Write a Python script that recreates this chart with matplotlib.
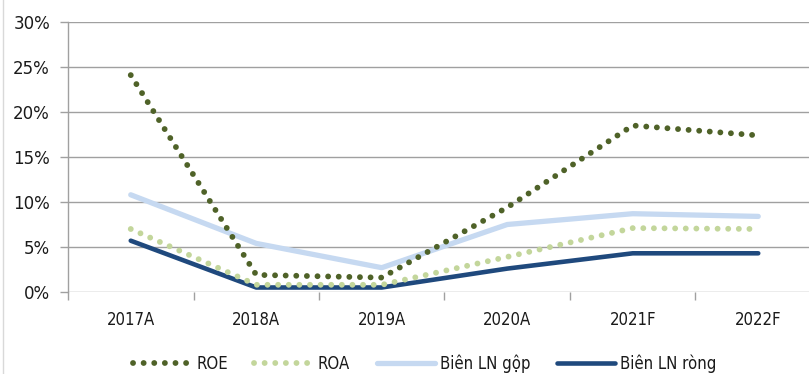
import matplotlib
matplotlib.use("Agg")
import matplotlib.pyplot as plt
from matplotlib.ticker import FixedLocator, PercentFormatter
from matplotlib.lines import Line2D

# Data (%)
years = ["2017A", "2018A", "2019A", "2020A", "2021F", "2022F"]
roe = [24.1, 1.9, 1.6, 9.4, 18.5, 17.4]
roa = [7.0, 0.8, 0.8, 3.9, 7.1, 7.0]
gross_margin = [10.8, 5.4, 2.7, 7.5, 8.7, 8.4]
net_margin = [5.7, 0.5, 0.5, 2.6, 4.3, 4.3]
y_ticks = [0, 5, 10, 15, 20, 25, 30]

W, H = 809, 374
fig = plt.figure(figsize=(W / 100, H / 100), dpi=100)
fig.patch.set_facecolor("white")

# Plot area extends past the right edge of the canvas
ax = fig.add_axes([68 / W, (H - 292) / H, 753 / W, 270 / H])
ax.set_xlim(-0.5, len(years) - 0.5)
ax.set_ylim(0, 30)

grid_c = "#A0A0A0"
for v in y_ticks:
    ax.axhline(v, color=grid_c, lw=1.0, zorder=1)

for s in ["top", "right", "bottom"]:
    ax.spines[s].set_visible(False)
ax.spines["left"].set_color(grid_c)
ax.spines["left"].set_linewidth(1.0)

x = list(range(len(years)))
dot_lw = 4.2
dot_style = (0, (0.01, 7.6 / dot_lw))

ax.plot(x, gross_margin, color="#C6D9F1", lw=3.8, solid_capstyle="round",
        solid_joinstyle="round", zorder=3)
ax.plot(x, net_margin, color="#1F497D", lw=3.3, solid_capstyle="round",
        solid_joinstyle="round", zorder=4)
ax.plot(x, roa, color="#C3D69B", lw=dot_lw, linestyle=dot_style,
        dash_capstyle="round", zorder=5)
ax.plot(x, roe, color="#4F6228", lw=dot_lw, linestyle=dot_style,
        dash_capstyle="round", zorder=6)

# Axes ticks
ax.yaxis.set_major_locator(FixedLocator(y_ticks))
ax.yaxis.set_major_formatter(PercentFormatter(decimals=0))
ax.tick_params(axis="y", length=6, width=1, color=grid_c, pad=7,
               labelsize=12, labelcolor="#1A1A1A")

ax.set_xticks(x)
ax.set_xticklabels(years, fontstretch="condensed")
ax.xaxis.set_minor_locator(FixedLocator([i - 0.5 for i in range(len(years) + 1)]))
ax.tick_params(axis="x", which="major", length=0, pad=14, labelsize=12,
               labelcolor="#1A1A1A")
ax.tick_params(axis="x", which="minor", length=6, width=1, color=grid_c,
               direction="out")

# Thin border line on the left edge of the chart
fig.add_artist(Line2D([2.5 / W, 2.5 / W], [0, 1], transform=fig.transFigure,
                      color="#D9D9D9", lw=1.0))

handles = [
    Line2D([], [], color="#4F6228", lw=dot_lw, linestyle=dot_style, dash_capstyle="round"),
    Line2D([], [], color="#C3D69B", lw=dot_lw, linestyle=dot_style, dash_capstyle="round"),
    Line2D([], [], color="#C6D9F1", lw=3.8, solid_capstyle="round"),
    Line2D([], [], color="#1F497D", lw=3.3, solid_capstyle="round"),
]
labels = ["ROE", "ROA", "Biên LN gộp", "Biên LN ròng"]
leg = fig.legend(handles, labels, loc="center", bbox_to_anchor=(0.525, 0.028),
                 ncol=4, frameon=False, handlelength=3.5,
                 handletextpad=0.3, columnspacing=1.6,
                 prop={"size": 12, "stretch": "condensed"})
for t in leg.get_texts():
    t.set_color("#1A1A1A")

fig.savefig("out.png", dpi=100, facecolor="white")
